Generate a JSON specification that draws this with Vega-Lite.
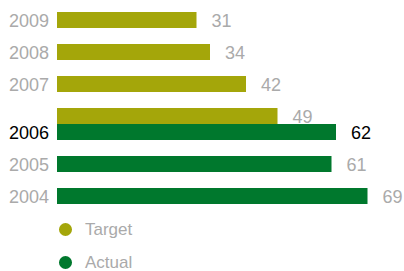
{
  "$schema": "https://vega.github.io/schema/vega-lite/v6.json",
  "width": 342,
  "height": 192,
  "autosize": "none",
  "padding": {"left": 57, "top": 12, "right": 5, "bottom": 67},
  "background": "white",
  "config": {"view": {"stroke": null}, "font": "Liberation Sans"},
  "data": {
    "values": [
      {"year": "2009", "series": "Target", "value": 31},
      {"year": "2008", "series": "Target", "value": 34},
      {"year": "2007", "series": "Target", "value": 42},
      {"year": "2006", "series": "Target", "value": 49},
      {"year": "2006", "series": "Actual", "value": 62},
      {"year": "2005", "series": "Actual", "value": 61},
      {"year": "2004", "series": "Actual", "value": 69}
    ]
  },
  "encoding": {
    "y": {"field": "year", "type": "ordinal", "sort": "descending", "axis": null,
      "scale": {"paddingInner": 0, "paddingOuter": 0}},
    "yOffset": {"field": "series", "type": "nominal", "sort": ["Target", "Actual"],
      "scale": {"paddingInner": 0, "paddingOuter": 0}}
  },
  "layer": [
    {
      "mark": {"type": "bar"},
      "encoding": {
        "x": {"field": "value", "type": "quantitative", "axis": null,
          "scale": {"domain": [0, 76], "nice": false}},
        "color": {"field": "series", "type": "nominal",
          "scale": {"domain": ["Target", "Actual"], "range": ["#a4a60a", "#00782d"]},
          "legend": {"title": null, "orient": "none", "legendX": 0, "legendY": 209,
            "symbolType": "circle", "symbolSize": 170, "symbolStrokeWidth": 0,
            "labelFontSize": 17, "labelColor": "#aaaaaa", "labelFont": "Liberation Sans",
            "labelOffset": 11, "rowPadding": 15, "padding": 0}}
      }
    },
    {
      "mark": {"type": "text", "align": "left", "baseline": "middle", "dx": 15, "dy": 2, "fontSize": 18},
      "encoding": {
        "x": {"field": "value", "type": "quantitative"},
        "text": {"field": "value", "type": "quantitative"},
        "color": {"condition": {"test": "datum.year == '2006' && datum.series == 'Actual'", "value": "#000000"}, "value": "#aaaaaa"}
      }
    },
    {
      "transform": [{"filter": "datum.series == 'Actual' || datum.year != '2006'"}],
      "mark": {"type": "text", "align": "right", "baseline": "middle", "dx": -8, "dy": 2, "fontSize": 18},
      "encoding": {
        "x": {"datum": 0, "type": "quantitative"},
        "text": {"field": "year", "type": "nominal"},
        "color": {"condition": {"test": "datum.year == '2006'", "value": "#000000"}, "value": "#aaaaaa"}
      }
    }
  ]
}
